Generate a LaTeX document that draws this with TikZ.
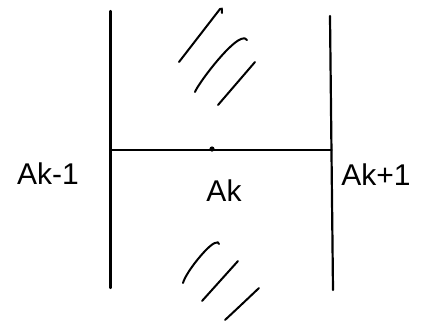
\documentclass[tikz,border=0pt]{standalone}
\usepackage{fontspec}
\setsansfont{Liberation Sans}
\tikzset{
  pen/.style={line width=2.2pt, line cap=round, line join=round},
  hatch/.style={line width=2pt, line cap=round},
  lbl/.style={font=\sffamily\fontsize{30}{30}\selectfont, inner sep=0pt}
}
\begin{document}
\begin{tikzpicture}[x=1pt,y=-1pt]
  \useasboundingbox (0,0) rectangle (426,322);
  \coordinate (LT) at (110.5,11);
  \coordinate (LB) at (110.5,288);
  \coordinate (RT) at (330,16);
  \coordinate (RB) at (333,290);
  \coordinate (ML) at (110.5,150);
  \coordinate (MR) at (331.5,150);
  \coordinate (K) at (212,149);
  \draw[pen] (LT) -- (LB);
  \draw[pen] (RT) -- (RB);
  \draw[pen] (ML) -- (MR);
  \fill (K) circle (2.6pt);
  % upper hatching
  \draw[hatch] (179,62) -- (220,9) .. controls (222,8) .. (222,13);
  \draw[hatch] (195,92) .. controls (198,84) and (228,44) .. (241,39) .. controls (245,38) .. (247,40);
  \draw[hatch] (218,105) -- (255,62);
  % lower hatching
  \draw[hatch] (183,283) .. controls (186,272) and (208,245) .. (215,243) .. controls (218,242) .. (219,244);
  \draw[hatch] (202,301) -- (238,261);
  \draw[hatch] (225,320) .. controls (240,306) .. (259,288);
  \node[lbl] (Akm) at (48,174) {Ak-1};
  \node[lbl] (Ak) at (224,191) {Ak};
  \node[lbl] (Akp) at (376,175) {Ak+1};
\end{tikzpicture}
\end{document}
